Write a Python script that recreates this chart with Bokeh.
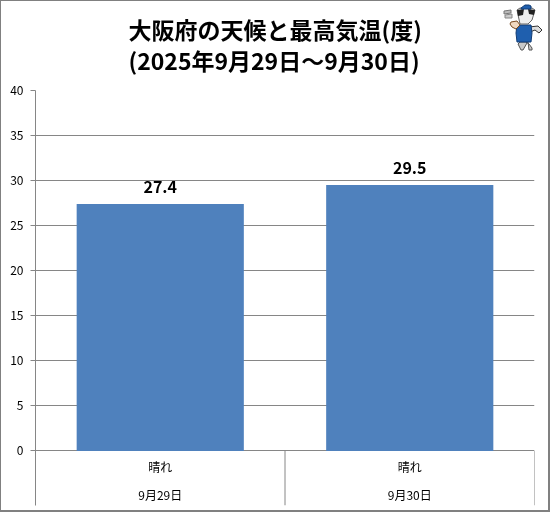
from bokeh.core.properties import value
from bokeh.embed import file_html
from bokeh.layouts import column
from bokeh.resources import INLINE
from bokeh.plotting import figure
from bokeh.models import ColumnDataSource, Div, FactorRange, Range1d, FixedTicker, Title

dates = ["9月29日", "9月30日"]
weather = ["晴れ", "晴れ"]
temps = [27.4, 29.5]
temp_labels = ["27.4", "29.5"]
y_ticks = [0, 5, 10, 15, 20, 25, 30, 35, 40]
title_text = "大阪府の天候と最高気温(度)\n(2025年9月29日～9月30日)"

FONT = "Noto Sans CJK JP"
GRAY = "#868686"
factors = list(zip(dates, weather))
src = ColumnDataSource(dict(x=factors, top=temps, label=temp_labels))

x_range = FactorRange(factors=factors, group_padding=0, factor_padding=0, range_padding=0)
y_range = Range1d(-6.06, 40)

p = figure(width=551, height=513, x_range=x_range, y_range=y_range,
           output_backend="svg", toolbar_location=None,
           min_border_left=35, min_border_right=17, min_border_top=90, min_border_bottom=8,
           background_fill_color="white", border_fill_color="white", outline_line_color=None)
p.styles = {"position": "fixed", "left": "0px", "top": "0px"}

p.title = Title(text=title_text, align="left", offset=93, text_font=FONT, text_font_size="23px",
                text_font_style="bold", text_color="black", text_line_height=0.92,
                vertical_align="top", standoff=23)

p.vbar(x="x", top="top", bottom=0, width=0.67, source=src, fill_color="#4F81BD", line_color=None)
p.text(x="x", y="top", text="label", source=src, text_align="center", text_baseline="bottom",
       text_font=value(FONT), text_font_size="16px", text_font_style="bold", text_color="black", y_offset=-11)

# separators of the category table below the zero line
boundaries = [1.0, 2.0]
p.segment(x0=boundaries, x1=boundaries, y0=[0, 0], y1=[-6.06, -6.06], line_color=GRAY, line_width=1)

p.yaxis.ticker = FixedTicker(ticks=y_ticks)
p.yaxis.major_tick_out = 5
p.yaxis.major_tick_in = 0
p.yaxis.minor_tick_line_color = None
p.yaxis.axis_line_color = GRAY
p.yaxis.major_tick_line_color = GRAY
p.yaxis.major_label_text_font = FONT
p.yaxis.major_label_text_font_size = "12px"
p.yaxis.major_label_text_color = "black"
p.yaxis.major_label_standoff = 7

p.ygrid.ticker = FixedTicker(ticks=y_ticks)
p.ygrid.grid_line_color = GRAY
p.xgrid.grid_line_color = None

p.xaxis.fixed_location = 0.78
p.xaxis.axis_line_color = None
p.xaxis.major_tick_line_color = None
p.xaxis.minor_tick_line_color = None
p.xaxis.major_label_text_font = FONT
p.xaxis.major_label_text_font_size = "12px"
p.xaxis.major_label_text_color = "black"
p.xaxis.major_label_standoff = 8
p.xaxis.group_text_font = FONT
p.xaxis.group_text_font_size = "12px"
p.xaxis.group_text_font_style = "normal"
p.xaxis.group_text_color = "black"
p.xaxis.separator_line_color = None

# small mascot of the top right corner: (fill, stroke, outline points in page pixels)
MASCOT = [
    ("#c8c8c8", "#555555", "518,42 526,42 527,50 530,50 530,48 527,44 524,42 525,43 521,50 519,50 516,44"),
    ("#dddddd", "#333333", "527,27 536,26 540,30 537,33 533,30 528,32"),
    ("#1f5fae", "#123d75", "515,25 529,25 530,33 529,42 515,42 514,33"),
    ("#eeeeee", "#666666", "515,10 518,8 530,8 533,10 530,20 526,24 518,24"),
    ("#222222", "none", "515,10 522,9 521,15 516,16"),
    ("#222222", "none", "526,9 533,10 532,15 527,14"),
    ("#1f5fae", "#123d75", "519,8 523,5 527,5 529,6 529,9 519,9"),
    ("#f0d8c0", "#7a4a20", "509,22 515,21 518,25 514,29 510,27 508,24"),
    ("#bbbbbb", "#777777", "502,11 509,10 509,13 502,14"),
    ("#cccccc", "#888888", "503,15 510,14 510,18 503,18"),
]
shapes = "".join(f'<polygon points="{pts}" fill="{fill}" stroke="{stroke}"/>' for fill, stroke, pts in MASCOT)
svg = f'<svg xmlns="http://www.w3.org/2000/svg" width="545" height="507" viewBox="-1 1 545 507" style="display:block">{shapes}</svg>'

# grey frame of the image, carrying the mascot
frame = Div(text=svg, width=552, height=514,
            styles={"position": "fixed", "left": "-6px", "top": "-6px", "width": "552px", "height": "514px",
                    "border": "2px solid #808080", "z-index": "10", "pointer-events": "none"})

page = column(p, frame)
open("out.html", "w").write(file_html(page, INLINE))
